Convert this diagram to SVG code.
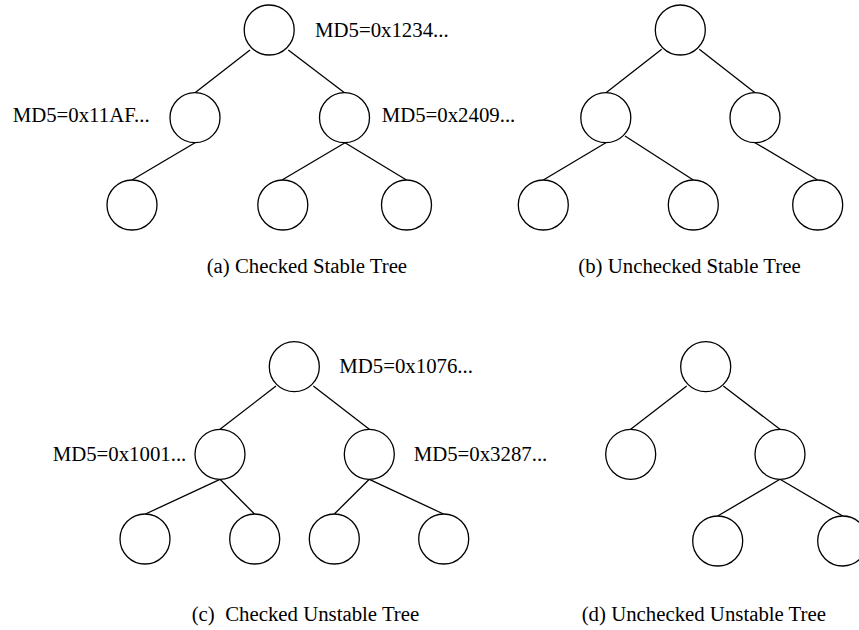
<svg xmlns="http://www.w3.org/2000/svg" width="859" height="630" viewBox="0 0 859 630">
  <style>
    .node { fill: #ffffff; stroke: #000000; stroke-width: 1.3; }
    .edge { stroke: #000000; stroke-width: 1.3; fill: none; }
    .lbl { font-family: "Liberation Serif", "Times New Roman", serif; font-size: 20.8px; fill: #000000; }
  </style>
  <rect width="859" height="630" fill="#ffffff"/>

  <!-- connectors -->
  <g id="connectors">
    <!-- (a) -->
    <line class="edge" x1="250" y1="50" x2="195" y2="92.7"/>
    <line class="edge" x1="288.3" y1="50" x2="344.5" y2="92.7"/>
    <line class="edge" x1="195" y1="142.7" x2="132" y2="180"/>
    <line class="edge" x1="345" y1="142.7" x2="282" y2="180"/>
    <line class="edge" x1="345" y1="142.7" x2="406.5" y2="180"/>
    <!-- (b) -->
    <line class="edge" x1="661.7" y1="49.3" x2="606" y2="92.7"/>
    <line class="edge" x1="699.3" y1="49.3" x2="755" y2="92.7"/>
    <line class="edge" x1="605.8" y1="142.7" x2="543.3" y2="180"/>
    <line class="edge" x1="625" y1="136" x2="693.3" y2="180"/>
    <line class="edge" x1="755" y1="142.7" x2="817.7" y2="180"/>
    <!-- (c) -->
    <line class="edge" x1="276" y1="386" x2="220" y2="429.3"/>
    <line class="edge" x1="313.3" y1="386" x2="369.3" y2="429.3"/>
    <line class="edge" x1="220" y1="479.3" x2="145.5" y2="514"/>
    <line class="edge" x1="220" y1="479.3" x2="254.5" y2="514"/>
    <line class="edge" x1="369.3" y1="479.3" x2="334.3" y2="514"/>
    <line class="edge" x1="369.3" y1="479.3" x2="443.5" y2="514"/>
    <!-- (d) -->
    <line class="edge" x1="686.7" y1="386" x2="630.7" y2="429.3"/>
    <line class="edge" x1="723.3" y1="386" x2="780" y2="429.3"/>
    <line class="edge" x1="780" y1="479.3" x2="717.7" y2="516"/>
    <line class="edge" x1="780" y1="479.3" x2="842.7" y2="516"/>
  </g>

  <!-- (a) checked stable tree -->
  <g id="a-root"><circle class="node" cx="269.2" cy="30" r="25"/></g>
  <g id="a-left"><circle class="node" cx="195" cy="117.7" r="25"/></g>
  <g id="a-right"><circle class="node" cx="344.5" cy="117.7" r="25"/></g>
  <g id="a-leaf1"><circle class="node" cx="132" cy="205" r="25"/></g>
  <g id="a-leaf2"><circle class="node" cx="282.8" cy="205" r="25"/></g>
  <g id="a-leaf3"><circle class="node" cx="406.5" cy="205" r="25"/></g>
  <g id="a-labels">
    <text class="lbl" x="315" y="37.3">MD5=0x1234...</text>
    <text class="lbl" x="12.7" y="122.3">MD5=0x11AF...</text>
    <text class="lbl" x="381.7" y="122.3">MD5=0x2409...</text>
    <text class="lbl" x="206.7" y="273.3">(a) Checked Stable Tree</text>
  </g>

  <!-- (b) unchecked stable tree -->
  <g id="b-root"><circle class="node" cx="680.3" cy="30" r="25"/></g>
  <g id="b-left"><circle class="node" cx="605.8" cy="117.7" r="25"/></g>
  <g id="b-right"><circle class="node" cx="755" cy="117.7" r="25"/></g>
  <g id="b-leaf1"><circle class="node" cx="543.3" cy="205" r="25"/></g>
  <g id="b-leaf2"><circle class="node" cx="693.3" cy="205" r="25"/></g>
  <g id="b-leaf3"><circle class="node" cx="817.7" cy="205" r="25"/></g>
  <g id="b-labels">
    <text class="lbl" x="578.3" y="273.3">(b) Unchecked Stable Tree</text>
  </g>

  <!-- (c) checked unstable tree -->
  <g id="c-root"><circle class="node" cx="294.3" cy="366.7" r="25"/></g>
  <g id="c-left"><circle class="node" cx="220" cy="454.3" r="25"/></g>
  <g id="c-right"><circle class="node" cx="369.3" cy="454.3" r="25"/></g>
  <g id="c-leaf1"><circle class="node" cx="145" cy="539" r="25"/></g>
  <g id="c-leaf2"><circle class="node" cx="254.7" cy="539" r="25"/></g>
  <g id="c-leaf3"><circle class="node" cx="334.3" cy="539" r="25"/></g>
  <g id="c-leaf4"><circle class="node" cx="443.7" cy="539" r="25"/></g>
  <g id="c-labels">
    <text class="lbl" x="339.3" y="373.3">MD5=0x1076...</text>
    <text class="lbl" x="52.7" y="460.7">MD5=0x1001...</text>
    <text class="lbl" x="413.7" y="460.7">MD5=0x3287...</text>
    <text class="lbl" x="191.7" y="621.3" xml:space="preserve">(c)  Checked Unstable Tree</text>
  </g>

  <!-- (d) unchecked unstable tree -->
  <g id="d-root"><circle class="node" cx="705.7" cy="366.7" r="25"/></g>
  <g id="d-left"><circle class="node" cx="630.7" cy="454.3" r="25"/></g>
  <g id="d-right"><circle class="node" cx="780" cy="454.3" r="25"/></g>
  <g id="d-leaf1"><circle class="node" cx="717.7" cy="541" r="25"/></g>
  <g id="d-leaf2"><circle class="node" cx="842.7" cy="541" r="25"/></g>
  <g id="d-labels">
    <text class="lbl" x="581.7" y="621.3">(d) Unchecked Unstable Tree</text>
  </g>
</svg>
